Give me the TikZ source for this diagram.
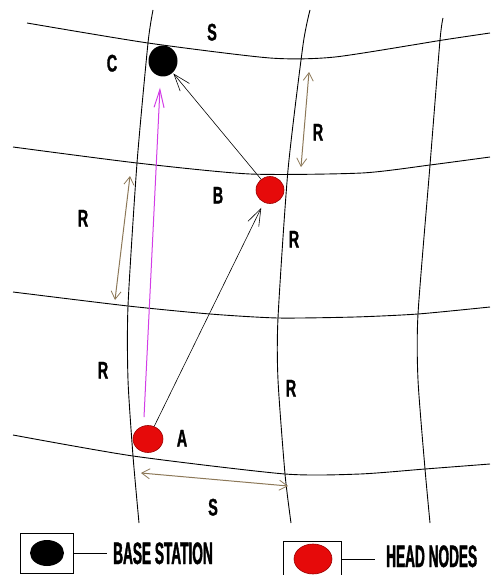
\documentclass[tikz,border=0pt]{standalone}
\usepackage{fontspec}
\usetikzlibrary{arrows.meta,calc,shapes.geometric}
\newfontfamily\lblfont{Liberation Sans Bold}[FakeStretch=0.6,FakeBold=1.2]
\newfontfamily\legfont{Liberation Sans Bold}[FakeStretch=0.44,FakeBold=1.2]
\definecolor{paintred}{RGB}{230,10,10}
\definecolor{paintmag}{RGB}{210,60,230}
\definecolor{paintbrown}{RGB}{140,120,88}
\begin{document}
\begin{tikzpicture}[x=1pt,y=-1pt,
  grid/.style={draw=black,line width=0.9pt},
  lbl/.style={font=\lblfont\fontsize{24}{24}\selectfont,inner sep=0pt,text height=17pt,text depth=0pt},
  leg/.style={font=\legfont\fontsize{31}{31}\selectfont,inner sep=0pt,text height=22pt,text depth=0pt},
  headnode/.style={ellipse,fill=paintred,draw=red!60!black,line width=0.6pt,inner sep=0pt},
  basenode/.style={ellipse,fill=black,inner sep=0pt},
  link/.style={draw=black,line width=0.6pt,-{Straight Barb[length=17pt,width=12pt,line width=0.6pt]}},
  maglink/.style={draw=paintmag,line width=1pt,-{Straight Barb[length=18pt,width=10pt,line width=1pt]}},
  measure/.style={draw=paintbrown,line width=1pt,{Straight Barb[length=8pt,width=10pt,line width=0.8pt]}-{Straight Barb[length=8pt,width=10pt,line width=0.8pt]}},
  legbox/.style={draw=black,line width=0.8pt}
]
\useasboundingbox (0,0) rectangle (490,575);
% grid lines
\draw[grid] plot[smooth,tension=0.4] coordinates {(153,10) (148,43) (137,163) (128,306) (128,380) (133,456) (139,523)};
\draw[grid] plot[smooth,tension=0.4] coordinates {(310,10) (303,45) (288,170) (278,318) (278,380) (285,474) (291,523)};
\draw[grid] plot[smooth,tension=0.4] coordinates {(443,18) (440,40) (430,165) (418,314) (418,380) (425,469) (430,523)};
\draw[grid] plot[smooth,tension=0.4] coordinates {(27,23) (148,43) (270,58) (335,57) (443,40) (490,33)};
\draw[grid] plot[smooth,tension=0.4] coordinates {(13,147) (137,163) (250,174) (362,173) (430,165) (490,157)};
\draw[grid] plot[smooth,tension=0.4] coordinates {(13,292) (128,306) (210,314) (278,318) (355,317) (418,314) (490,307)};
\draw[grid] plot[smooth,tension=0.4] coordinates {(13,435) (133,456) (285,474) (360,474) (425,469) (490,464)};
% nodes
\node[basenode,minimum width=29pt,minimum height=31pt] (C) at (163,61) {};
\node[headnode,minimum width=28pt,minimum height=27pt] (B) at (270,190) {};
\node[headnode,minimum width=30pt,minimum height=27pt] (A) at (148,439) {};
% labels
\node[lbl] (lC) at (112,63) {C};
\node[lbl] (lS1) at (212,32) {S};
\node[lbl] (lB) at (218,195) {B};
\node[lbl] (lR1) at (318,132) {R};
\node[lbl] (lR2) at (83,218) {R};
\node[lbl] (lR3) at (294,239) {R};
\node[lbl] (lR4) at (103,370) {R};
\node[lbl] (lR5) at (291,388) {R};
\node[lbl] (lA) at (182,438) {A};
\node[lbl] (lS2) at (213,507) {S};
% links
\draw[link,shorten >=1pt] (B) -- (C);
\draw[link,shorten >=6pt] (A) -- (B);
\draw[maglink] ([xshift=-4pt,yshift=8pt]A.north) -- ([xshift=-3pt,yshift=-11pt]C.south);
% measures
\coordinate (m1a) at (309,72);
\coordinate (m1b) at (301,167);
\coordinate (m2a) at (130,176);
\coordinate (m2b) at (115,300);
\coordinate (m3a) at (141,473);
\coordinate (m3b) at (288,486);
\draw[measure] (m1a) -- (m1b);
\draw[measure] (m2a) -- (m2b);
\draw[measure] (m3a) -- (m3b);
% legend
\node[legbox,minimum width=53pt,minimum height=40pt,inner sep=0pt] (box1) at (46.5,553) {};
\node[basenode,minimum width=34pt,minimum height=26pt] (legC) at (47,553) {};
\node[leg,anchor=west] (tBase) at (113,553) {BASE STATION};
\coordinate (bEnd) at (107,553);
\draw[line width=0.8pt] (box1.east) -- (bEnd);
\node[legbox,minimum width=58pt,minimum height=40pt,inner sep=0pt] (box2) at (312,561) {};
\node[headnode,minimum width=38pt,minimum height=30pt] (legA) at (313,559) {};
\node[leg,anchor=west] (tHead) at (386,556) {HEAD NODES};
\coordinate (hEnd) at (375,559);
\draw[line width=0.8pt] (box2.east |- legA) -- (hEnd);
\end{tikzpicture}
\end{document}
